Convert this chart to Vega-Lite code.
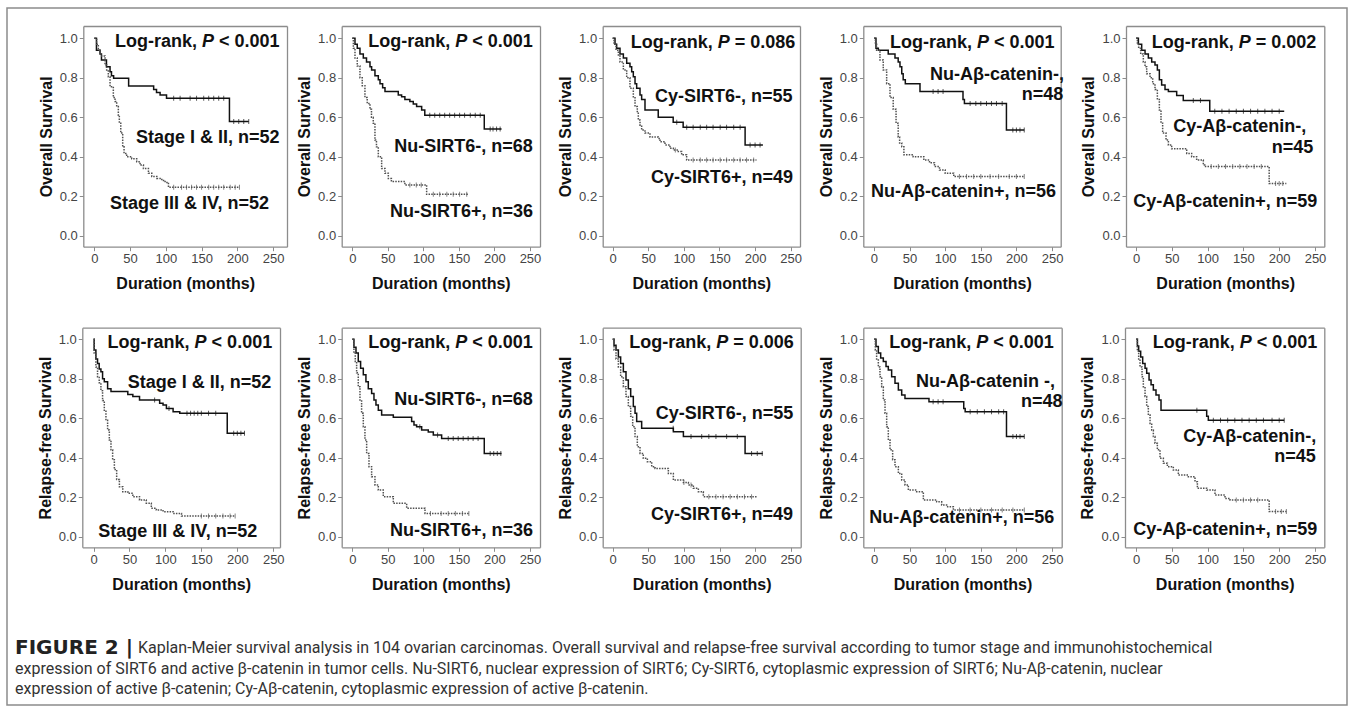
{
"$schema":"https://vega.github.io/schema/vega-lite/v6.json",
"width":1340,"height":697,"autosize":"none",
"padding":{"left":7,"top":8,"right":8,"bottom":7},
"background":"white",
"datasets":{
"km":[
{"p":"a1","g":"s","t":0,"v":1},{"p":"a1","g":"s","t":3,"v":0.94},{"p":"a1","g":"s","t":8,"v":0.92},{"p":"a1","g":"s","t":10,"v":0.89},{"p":"a1","g":"s","t":17,"v":0.856},{"p":"a1","g":"s","t":22,"v":0.83},{"p":"a1","g":"s","t":24,"v":0.81},{"p":"a1","g":"s","t":27,"v":0.797},{"p":"a1","g":"s","t":48,"v":0.758},{"p":"a1","g":"s","t":83,"v":0.74},{"p":"a1","g":"s","t":87,"v":0.725},{"p":"a1","g":"s","t":92,"v":0.713},{"p":"a1","g":"s","t":101,"v":0.696},{"p":"a1","g":"s","t":189,"v":0.578},{"p":"a1","g":"s","t":216,"v":0.578},
{"p":"a1","g":"d","t":0,"v":1},{"p":"a1","g":"d","t":3.3,"v":0.97},{"p":"a1","g":"d","t":5.6,"v":0.94},{"p":"a1","g":"d","t":8,"v":0.92},{"p":"a1","g":"d","t":10.3,"v":0.91},{"p":"a1","g":"d","t":15,"v":0.865},{"p":"a1","g":"d","t":17.3,"v":0.84},{"p":"a1","g":"d","t":19.6,"v":0.805},{"p":"a1","g":"d","t":22,"v":0.755},{"p":"a1","g":"d","t":26.6,"v":0.7},{"p":"a1","g":"d","t":29,"v":0.68},{"p":"a1","g":"d","t":31.3,"v":0.654},{"p":"a1","g":"d","t":33.6,"v":0.61},{"p":"a1","g":"d","t":35,"v":0.57},{"p":"a1","g":"d","t":37,"v":0.52},{"p":"a1","g":"d","t":39.7,"v":0.45},{"p":"a1","g":"d","t":41.6,"v":0.417},{"p":"a1","g":"d","t":45.3,"v":0.4},{"p":"a1","g":"d","t":52.3,"v":0.39},{"p":"a1","g":"d","t":59.3,"v":0.375},{"p":"a1","g":"d","t":64,"v":0.358},{"p":"a1","g":"d","t":68.7,"v":0.34},{"p":"a1","g":"d","t":75.7,"v":0.316},{"p":"a1","g":"d","t":80.4,"v":0.3},{"p":"a1","g":"d","t":87.4,"v":0.29},{"p":"a1","g":"d","t":94.4,"v":0.28},{"p":"a1","g":"d","t":99,"v":0.27},{"p":"a1","g":"d","t":103.7,"v":0.25},{"p":"a1","g":"d","t":106,"v":0.245},{"p":"a1","g":"d","t":203,"v":0.245},
{"p":"a2","g":"s","t":0,"v":1},{"p":"a2","g":"s","t":3.8,"v":0.97},{"p":"a2","g":"s","t":7,"v":0.95},{"p":"a2","g":"s","t":10.8,"v":0.92},{"p":"a2","g":"s","t":15.5,"v":0.9},{"p":"a2","g":"s","t":20,"v":0.88},{"p":"a2","g":"s","t":24.9,"v":0.856},{"p":"a2","g":"s","t":27.2,"v":0.84},{"p":"a2","g":"s","t":31.9,"v":0.81},{"p":"a2","g":"s","t":36.6,"v":0.79},{"p":"a2","g":"s","t":39,"v":0.77},{"p":"a2","g":"s","t":42.7,"v":0.75},{"p":"a2","g":"s","t":46,"v":0.73},{"p":"a2","g":"s","t":64.7,"v":0.713},{"p":"a2","g":"s","t":69.4,"v":0.704},{"p":"a2","g":"s","t":74,"v":0.69},{"p":"a2","g":"s","t":81,"v":0.68},{"p":"a2","g":"s","t":85.8,"v":0.667},{"p":"a2","g":"s","t":90.5,"v":0.655},{"p":"a2","g":"s","t":97.6,"v":0.637},{"p":"a2","g":"s","t":102,"v":0.61},{"p":"a2","g":"s","t":185.7,"v":0.54},{"p":"a2","g":"s","t":210,"v":0.54},
{"p":"a2","g":"d","t":0,"v":1},{"p":"a2","g":"d","t":1.5,"v":0.95},{"p":"a2","g":"d","t":3.8,"v":0.9},{"p":"a2","g":"d","t":7,"v":0.86},{"p":"a2","g":"d","t":10.8,"v":0.8},{"p":"a2","g":"d","t":14,"v":0.76},{"p":"a2","g":"d","t":17.8,"v":0.7},{"p":"a2","g":"d","t":21,"v":0.67},{"p":"a2","g":"d","t":24.9,"v":0.64},{"p":"a2","g":"d","t":27,"v":0.6},{"p":"a2","g":"d","t":29.5,"v":0.57},{"p":"a2","g":"d","t":31.9,"v":0.485},{"p":"a2","g":"d","t":34,"v":0.45},{"p":"a2","g":"d","t":36.6,"v":0.4},{"p":"a2","g":"d","t":41.3,"v":0.34},{"p":"a2","g":"d","t":46,"v":0.316},{"p":"a2","g":"d","t":50.7,"v":0.29},{"p":"a2","g":"d","t":55,"v":0.274},{"p":"a2","g":"d","t":74,"v":0.257},{"p":"a2","g":"d","t":104.6,"v":0.21},{"p":"a2","g":"d","t":164,"v":0.21},
{"p":"a3","g":"s","t":0,"v":1},{"p":"a3","g":"s","t":3.3,"v":0.97},{"p":"a3","g":"s","t":5.6,"v":0.95},{"p":"a3","g":"s","t":10.3,"v":0.92},{"p":"a3","g":"s","t":15,"v":0.9},{"p":"a3","g":"s","t":19.7,"v":0.873},{"p":"a3","g":"s","t":24.3,"v":0.856},{"p":"a3","g":"s","t":26.7,"v":0.83},{"p":"a3","g":"s","t":29,"v":0.805},{"p":"a3","g":"s","t":31.4,"v":0.77},{"p":"a3","g":"s","t":33.7,"v":0.747},{"p":"a3","g":"s","t":38.4,"v":0.713},{"p":"a3","g":"s","t":40.7,"v":0.69},{"p":"a3","g":"s","t":45.4,"v":0.637},{"p":"a3","g":"s","t":64,"v":0.6},{"p":"a3","g":"s","t":85,"v":0.575},{"p":"a3","g":"s","t":99,"v":0.55},{"p":"a3","g":"s","t":186,"v":0.46},{"p":"a3","g":"s","t":211,"v":0.46},
{"p":"a3","g":"d","t":0,"v":1},{"p":"a3","g":"d","t":1.9,"v":0.97},{"p":"a3","g":"d","t":4.7,"v":0.94},{"p":"a3","g":"d","t":8,"v":0.91},{"p":"a3","g":"d","t":10.3,"v":0.88},{"p":"a3","g":"d","t":15,"v":0.84},{"p":"a3","g":"d","t":19.7,"v":0.8},{"p":"a3","g":"d","t":24.3,"v":0.747},{"p":"a3","g":"d","t":29,"v":0.704},{"p":"a3","g":"d","t":31.4,"v":0.654},{"p":"a3","g":"d","t":34.6,"v":0.62},{"p":"a3","g":"d","t":36,"v":0.586},{"p":"a3","g":"d","t":38.4,"v":0.56},{"p":"a3","g":"d","t":40.7,"v":0.535},{"p":"a3","g":"d","t":45.4,"v":0.52},{"p":"a3","g":"d","t":52.4,"v":0.5},{"p":"a3","g":"d","t":64,"v":0.493},{"p":"a3","g":"d","t":66.5,"v":0.476},{"p":"a3","g":"d","t":73.5,"v":0.46},{"p":"a3","g":"d","t":80.5,"v":0.443},{"p":"a3","g":"d","t":85.2,"v":0.434},{"p":"a3","g":"d","t":92.2,"v":0.426},{"p":"a3","g":"d","t":96.9,"v":0.41},{"p":"a3","g":"d","t":103.9,"v":0.383},{"p":"a3","g":"d","t":202,"v":0.383},
{"p":"a4","g":"s","t":0,"v":1},{"p":"a4","g":"s","t":2.8,"v":0.95},{"p":"a4","g":"s","t":6.1,"v":0.94},{"p":"a4","g":"s","t":20,"v":0.92},{"p":"a4","g":"s","t":29.5,"v":0.9},{"p":"a4","g":"s","t":34,"v":0.88},{"p":"a4","g":"s","t":36.5,"v":0.856},{"p":"a4","g":"s","t":39,"v":0.82},{"p":"a4","g":"s","t":41,"v":0.79},{"p":"a4","g":"s","t":44,"v":0.77},{"p":"a4","g":"s","t":64.6,"v":0.73},{"p":"a4","g":"s","t":125,"v":0.69},{"p":"a4","g":"s","t":127,"v":0.67},{"p":"a4","g":"s","t":186,"v":0.535},{"p":"a4","g":"s","t":211,"v":0.535},
{"p":"a4","g":"d","t":0,"v":1},{"p":"a4","g":"d","t":2,"v":0.97},{"p":"a4","g":"d","t":3.7,"v":0.94},{"p":"a4","g":"d","t":8.4,"v":0.89},{"p":"a4","g":"d","t":13,"v":0.84},{"p":"a4","g":"d","t":17.8,"v":0.77},{"p":"a4","g":"d","t":22.5,"v":0.7},{"p":"a4","g":"d","t":27,"v":0.64},{"p":"a4","g":"d","t":31,"v":0.57},{"p":"a4","g":"d","t":34,"v":0.5},{"p":"a4","g":"d","t":36,"v":0.47},{"p":"a4","g":"d","t":39,"v":0.45},{"p":"a4","g":"d","t":42,"v":0.41},{"p":"a4","g":"d","t":55,"v":0.4},{"p":"a4","g":"d","t":70,"v":0.383},{"p":"a4","g":"d","t":78,"v":0.37},{"p":"a4","g":"d","t":85,"v":0.35},{"p":"a4","g":"d","t":92,"v":0.333},{"p":"a4","g":"d","t":100,"v":0.316},{"p":"a4","g":"d","t":112,"v":0.3},{"p":"a4","g":"d","t":211,"v":0.3},
{"p":"a5","g":"s","t":0,"v":1},{"p":"a5","g":"s","t":3.3,"v":0.97},{"p":"a5","g":"s","t":7.9,"v":0.94},{"p":"a5","g":"s","t":12.6,"v":0.92},{"p":"a5","g":"s","t":17.2,"v":0.9},{"p":"a5","g":"s","t":21.9,"v":0.88},{"p":"a5","g":"s","t":26.5,"v":0.865},{"p":"a5","g":"s","t":29.8,"v":0.84},{"p":"a5","g":"s","t":32.6,"v":0.79},{"p":"a5","g":"s","t":35.8,"v":0.763},{"p":"a5","g":"s","t":40.5,"v":0.74},{"p":"a5","g":"s","t":45.2,"v":0.73},{"p":"a5","g":"s","t":56.8,"v":0.71},{"p":"a5","g":"s","t":66,"v":0.685},{"p":"a5","g":"s","t":103,"v":0.63},{"p":"a5","g":"s","t":207,"v":0.63},
{"p":"a5","g":"d","t":0,"v":1},{"p":"a5","g":"d","t":1.9,"v":0.97},{"p":"a5","g":"d","t":3.7,"v":0.95},{"p":"a5","g":"d","t":6.5,"v":0.92},{"p":"a5","g":"d","t":10.2,"v":0.88},{"p":"a5","g":"d","t":12.6,"v":0.856},{"p":"a5","g":"d","t":14.9,"v":0.82},{"p":"a5","g":"d","t":19.6,"v":0.8},{"p":"a5","g":"d","t":23.3,"v":0.77},{"p":"a5","g":"d","t":26.5,"v":0.74},{"p":"a5","g":"d","t":29.8,"v":0.69},{"p":"a5","g":"d","t":32.6,"v":0.637},{"p":"a5","g":"d","t":34.9,"v":0.57},{"p":"a5","g":"d","t":37.2,"v":0.52},{"p":"a5","g":"d","t":41.9,"v":0.485},{"p":"a5","g":"d","t":45.2,"v":0.46},{"p":"a5","g":"d","t":49.8,"v":0.44},{"p":"a5","g":"d","t":70.8,"v":0.417},{"p":"a5","g":"d","t":77.7,"v":0.4},{"p":"a5","g":"d","t":84.7,"v":0.383},{"p":"a5","g":"d","t":94,"v":0.358},{"p":"a5","g":"d","t":96,"v":0.35},{"p":"a5","g":"d","t":186,"v":0.265},{"p":"a5","g":"d","t":210,"v":0.265},
{"p":"b1","g":"s","t":0,"v":1},{"p":"b1","g":"s","t":0.9,"v":0.946},{"p":"b1","g":"s","t":3.3,"v":0.9},{"p":"b1","g":"s","t":5.6,"v":0.878},{"p":"b1","g":"s","t":7.9,"v":0.85},{"p":"b1","g":"s","t":10.3,"v":0.836},{"p":"b1","g":"s","t":12.6,"v":0.8},{"p":"b1","g":"s","t":15,"v":0.785},{"p":"b1","g":"s","t":19.6,"v":0.75},{"p":"b1","g":"s","t":24.3,"v":0.735},{"p":"b1","g":"s","t":47.7,"v":0.72},{"p":"b1","g":"s","t":54.7,"v":0.71},{"p":"b1","g":"s","t":64,"v":0.693},{"p":"b1","g":"s","t":92,"v":0.676},{"p":"b1","g":"s","t":96.7,"v":0.667},{"p":"b1","g":"s","t":101.4,"v":0.65},{"p":"b1","g":"s","t":110.7,"v":0.633},{"p":"b1","g":"s","t":120,"v":0.625},{"p":"b1","g":"s","t":186,"v":0.524},{"p":"b1","g":"s","t":210,"v":0.524},
{"p":"b1","g":"d","t":0,"v":1},{"p":"b1","g":"d","t":0.9,"v":0.93},{"p":"b1","g":"d","t":3.3,"v":0.86},{"p":"b1","g":"d","t":5.6,"v":0.81},{"p":"b1","g":"d","t":7.9,"v":0.78},{"p":"b1","g":"d","t":10.3,"v":0.74},{"p":"b1","g":"d","t":12.6,"v":0.69},{"p":"b1","g":"d","t":15,"v":0.64},{"p":"b1","g":"d","t":17.3,"v":0.59},{"p":"b1","g":"d","t":19.6,"v":0.54},{"p":"b1","g":"d","t":22,"v":0.49},{"p":"b1","g":"d","t":24.3,"v":0.44},{"p":"b1","g":"d","t":26.6,"v":0.39},{"p":"b1","g":"d","t":29,"v":0.34},{"p":"b1","g":"d","t":32.2,"v":0.29},{"p":"b1","g":"d","t":36,"v":0.253},{"p":"b1","g":"d","t":40.7,"v":0.228},{"p":"b1","g":"d","t":47.7,"v":0.22},{"p":"b1","g":"d","t":54.7,"v":0.203},{"p":"b1","g":"d","t":64,"v":0.186},{"p":"b1","g":"d","t":73.4,"v":0.17},{"p":"b1","g":"d","t":80.4,"v":0.144},{"p":"b1","g":"d","t":87.4,"v":0.135},{"p":"b1","g":"d","t":96.7,"v":0.127},{"p":"b1","g":"d","t":110.7,"v":0.118},{"p":"b1","g":"d","t":122.4,"v":0.105},{"p":"b1","g":"d","t":197,"v":0.105},
{"p":"b2","g":"s","t":0,"v":1},{"p":"b2","g":"s","t":2.3,"v":0.96},{"p":"b2","g":"s","t":5.2,"v":0.93},{"p":"b2","g":"s","t":8.4,"v":0.887},{"p":"b2","g":"s","t":11.7,"v":0.853},{"p":"b2","g":"s","t":15.5,"v":0.82},{"p":"b2","g":"s","t":19.2,"v":0.785},{"p":"b2","g":"s","t":22.5,"v":0.75},{"p":"b2","g":"s","t":27.2,"v":0.726},{"p":"b2","g":"s","t":30.5,"v":0.693},{"p":"b2","g":"s","t":33.3,"v":0.667},{"p":"b2","g":"s","t":36.6,"v":0.64},{"p":"b2","g":"s","t":41.3,"v":0.617},{"p":"b2","g":"s","t":57.7,"v":0.605},{"p":"b2","g":"s","t":83.5,"v":0.583},{"p":"b2","g":"s","t":86.8,"v":0.566},{"p":"b2","g":"s","t":90.5,"v":0.557},{"p":"b2","g":"s","t":97.6,"v":0.54},{"p":"b2","g":"s","t":106.9,"v":0.53},{"p":"b2","g":"s","t":114,"v":0.515},{"p":"b2","g":"s","t":125.7,"v":0.498},{"p":"b2","g":"s","t":185.7,"v":0.422},{"p":"b2","g":"s","t":210,"v":0.422},
{"p":"b2","g":"d","t":0,"v":1},{"p":"b2","g":"d","t":2.3,"v":0.93},{"p":"b2","g":"d","t":4.2,"v":0.887},{"p":"b2","g":"d","t":6.1,"v":0.83},{"p":"b2","g":"d","t":8.4,"v":0.76},{"p":"b2","g":"d","t":10.8,"v":0.693},{"p":"b2","g":"d","t":13.1,"v":0.625},{"p":"b2","g":"d","t":15.5,"v":0.557},{"p":"b2","g":"d","t":17.8,"v":0.49},{"p":"b2","g":"d","t":20.2,"v":0.422},{"p":"b2","g":"d","t":23.5,"v":0.355},{"p":"b2","g":"d","t":27.2,"v":0.304},{"p":"b2","g":"d","t":31.9,"v":0.262},{"p":"b2","g":"d","t":36.6,"v":0.236},{"p":"b2","g":"d","t":43.6,"v":0.203},{"p":"b2","g":"d","t":57.7,"v":0.169},{"p":"b2","g":"d","t":76.5,"v":0.144},{"p":"b2","g":"d","t":102.3,"v":0.118},{"p":"b2","g":"d","t":164.6,"v":0.118},
{"p":"b3","g":"s","t":0,"v":1},{"p":"b3","g":"s","t":1.9,"v":0.97},{"p":"b3","g":"s","t":4.7,"v":0.946},{"p":"b3","g":"s","t":8,"v":0.91},{"p":"b3","g":"s","t":11.2,"v":0.878},{"p":"b3","g":"s","t":15,"v":0.836},{"p":"b3","g":"s","t":18.7,"v":0.794},{"p":"b3","g":"s","t":22,"v":0.75},{"p":"b3","g":"s","t":25.3,"v":0.71},{"p":"b3","g":"s","t":29,"v":0.66},{"p":"b3","g":"s","t":31.4,"v":0.625},{"p":"b3","g":"s","t":33.7,"v":0.583},{"p":"b3","g":"s","t":40.7,"v":0.549},{"p":"b3","g":"s","t":85.2,"v":0.532},{"p":"b3","g":"s","t":99.3,"v":0.507},{"p":"b3","g":"s","t":185.9,"v":0.422},{"p":"b3","g":"s","t":210.7,"v":0.422},
{"p":"b3","g":"d","t":0,"v":1},{"p":"b3","g":"d","t":1.9,"v":0.946},{"p":"b3","g":"d","t":4.7,"v":0.9},{"p":"b3","g":"d","t":8,"v":0.86},{"p":"b3","g":"d","t":11.2,"v":0.81},{"p":"b3","g":"d","t":15,"v":0.76},{"p":"b3","g":"d","t":18.7,"v":0.71},{"p":"b3","g":"d","t":22,"v":0.66},{"p":"b3","g":"d","t":25.3,"v":0.61},{"p":"b3","g":"d","t":28.1,"v":0.557},{"p":"b3","g":"d","t":31.4,"v":0.507},{"p":"b3","g":"d","t":34.6,"v":0.456},{"p":"b3","g":"d","t":38.4,"v":0.422},{"p":"b3","g":"d","t":43,"v":0.397},{"p":"b3","g":"d","t":48.7,"v":0.38},{"p":"b3","g":"d","t":54.8,"v":0.355},{"p":"b3","g":"d","t":59.5,"v":0.346},{"p":"b3","g":"d","t":78.2,"v":0.32},{"p":"b3","g":"d","t":85.2,"v":0.287},{"p":"b3","g":"d","t":99.3,"v":0.274},{"p":"b3","g":"d","t":106.3,"v":0.262},{"p":"b3","g":"d","t":113.3,"v":0.245},{"p":"b3","g":"d","t":120.3,"v":0.228},{"p":"b3","g":"d","t":127.3,"v":0.203},{"p":"b3","g":"d","t":202,"v":0.203},
{"p":"b4","g":"s","t":0,"v":1},{"p":"b4","g":"s","t":2.8,"v":0.963},{"p":"b4","g":"s","t":6.1,"v":0.93},{"p":"b4","g":"s","t":9.4,"v":0.905},{"p":"b4","g":"s","t":13.1,"v":0.887},{"p":"b4","g":"s","t":16.9,"v":0.862},{"p":"b4","g":"s","t":20.1,"v":0.845},{"p":"b4","g":"s","t":24.8,"v":0.81},{"p":"b4","g":"s","t":29.5,"v":0.777},{"p":"b4","g":"s","t":34.2,"v":0.743},{"p":"b4","g":"s","t":38.9,"v":0.718},{"p":"b4","g":"s","t":43.5,"v":0.7},{"p":"b4","g":"s","t":77.2,"v":0.684},{"p":"b4","g":"s","t":126,"v":0.65},{"p":"b4","g":"s","t":128,"v":0.633},{"p":"b4","g":"s","t":186,"v":0.507},{"p":"b4","g":"s","t":211,"v":0.507},
{"p":"b4","g":"d","t":0,"v":1},{"p":"b4","g":"d","t":1.9,"v":0.946},{"p":"b4","g":"d","t":3.7,"v":0.9},{"p":"b4","g":"d","t":6.1,"v":0.86},{"p":"b4","g":"d","t":8.4,"v":0.81},{"p":"b4","g":"d","t":10.8,"v":0.76},{"p":"b4","g":"d","t":13.1,"v":0.693},{"p":"b4","g":"d","t":15.5,"v":0.625},{"p":"b4","g":"d","t":17.8,"v":0.557},{"p":"b4","g":"d","t":20.1,"v":0.49},{"p":"b4","g":"d","t":22.5,"v":0.44},{"p":"b4","g":"d","t":26.2,"v":0.39},{"p":"b4","g":"d","t":29.5,"v":0.355},{"p":"b4","g":"d","t":34.2,"v":0.32},{"p":"b4","g":"d","t":38.9,"v":0.287},{"p":"b4","g":"d","t":43.5,"v":0.262},{"p":"b4","g":"d","t":48.2,"v":0.236},{"p":"b4","g":"d","t":59.9,"v":0.228},{"p":"b4","g":"d","t":69.3,"v":0.186},{"p":"b4","g":"d","t":88,"v":0.177},{"p":"b4","g":"d","t":95,"v":0.16},{"p":"b4","g":"d","t":102,"v":0.152},{"p":"b4","g":"d","t":111.4,"v":0.135},{"p":"b4","g":"d","t":211,"v":0.135},
{"p":"b5","g":"s","t":0,"v":1},{"p":"b5","g":"s","t":1.9,"v":0.966},{"p":"b5","g":"s","t":3.7,"v":0.94},{"p":"b5","g":"s","t":6.5,"v":0.91},{"p":"b5","g":"s","t":9.3,"v":0.878},{"p":"b5","g":"s","t":12.6,"v":0.853},{"p":"b5","g":"s","t":14.9,"v":0.828},{"p":"b5","g":"s","t":18.2,"v":0.794},{"p":"b5","g":"s","t":21,"v":0.77},{"p":"b5","g":"s","t":24.2,"v":0.743},{"p":"b5","g":"s","t":27.9,"v":0.718},{"p":"b5","g":"s","t":32.1,"v":0.693},{"p":"b5","g":"s","t":34.9,"v":0.64},{"p":"b5","g":"s","t":98.7,"v":0.61},{"p":"b5","g":"s","t":101,"v":0.59},{"p":"b5","g":"s","t":207,"v":0.59},
{"p":"b5","g":"d","t":0,"v":1},{"p":"b5","g":"d","t":1.9,"v":0.94},{"p":"b5","g":"d","t":3.7,"v":0.9},{"p":"b5","g":"d","t":5.6,"v":0.86},{"p":"b5","g":"d","t":8.4,"v":0.81},{"p":"b5","g":"d","t":10.2,"v":0.76},{"p":"b5","g":"d","t":12.6,"v":0.71},{"p":"b5","g":"d","t":14.9,"v":0.66},{"p":"b5","g":"d","t":17.2,"v":0.617},{"p":"b5","g":"d","t":19.6,"v":0.574},{"p":"b5","g":"d","t":21.9,"v":0.54},{"p":"b5","g":"d","t":24.2,"v":0.507},{"p":"b5","g":"d","t":26.5,"v":0.473},{"p":"b5","g":"d","t":29.8,"v":0.44},{"p":"b5","g":"d","t":33.5,"v":0.397},{"p":"b5","g":"d","t":38.2,"v":0.372},{"p":"b5","g":"d","t":43.8,"v":0.355},{"p":"b5","g":"d","t":52.1,"v":0.338},{"p":"b5","g":"d","t":59.1,"v":0.312},{"p":"b5","g":"d","t":73.1,"v":0.304},{"p":"b5","g":"d","t":82.4,"v":0.279},{"p":"b5","g":"d","t":85.7,"v":0.245},{"p":"b5","g":"d","t":98.7,"v":0.236},{"p":"b5","g":"d","t":110.3,"v":0.211},{"p":"b5","g":"d","t":124.3,"v":0.194},{"p":"b5","g":"d","t":131.3,"v":0.186},{"p":"b5","g":"d","t":186,"v":0.128},{"p":"b5","g":"d","t":210,"v":0.128}
],
"cens":[
{"p":"a1","g":"s","t":111,"v":0.696},{"p":"a1","g":"s","t":120,"v":0.696},{"p":"a1","g":"s","t":134,"v":0.696},{"p":"a1","g":"s","t":143,"v":0.696},{"p":"a1","g":"s","t":153,"v":0.696},{"p":"a1","g":"s","t":160,"v":0.696},{"p":"a1","g":"s","t":167,"v":0.696},{"p":"a1","g":"s","t":174,"v":0.696},{"p":"a1","g":"s","t":181,"v":0.696},{"p":"a1","g":"s","t":195,"v":0.578},{"p":"a1","g":"s","t":202,"v":0.578},{"p":"a1","g":"s","t":209,"v":0.578},{"p":"a1","g":"s","t":216,"v":0.578},
{"p":"a1","g":"d","t":111,"v":0.245},{"p":"a1","g":"d","t":122,"v":0.245},{"p":"a1","g":"d","t":129,"v":0.245},{"p":"a1","g":"d","t":136,"v":0.245},{"p":"a1","g":"d","t":143,"v":0.245},{"p":"a1","g":"d","t":150,"v":0.245},{"p":"a1","g":"d","t":160,"v":0.245},{"p":"a1","g":"d","t":167,"v":0.245},{"p":"a1","g":"d","t":174,"v":0.245},{"p":"a1","g":"d","t":181,"v":0.245},{"p":"a1","g":"d","t":190,"v":0.245},{"p":"a1","g":"d","t":197,"v":0.245},{"p":"a1","g":"d","t":203,"v":0.245},
{"p":"a2","g":"s","t":109,"v":0.61},{"p":"a2","g":"s","t":116,"v":0.61},{"p":"a2","g":"s","t":123,"v":0.61},{"p":"a2","g":"s","t":130,"v":0.61},{"p":"a2","g":"s","t":137,"v":0.61},{"p":"a2","g":"s","t":144,"v":0.61},{"p":"a2","g":"s","t":151,"v":0.61},{"p":"a2","g":"s","t":158,"v":0.61},{"p":"a2","g":"s","t":166,"v":0.61},{"p":"a2","g":"s","t":173,"v":0.61},{"p":"a2","g":"s","t":180,"v":0.61},{"p":"a2","g":"s","t":194,"v":0.54},{"p":"a2","g":"s","t":198,"v":0.54},{"p":"a2","g":"s","t":203,"v":0.54},{"p":"a2","g":"s","t":208,"v":0.54},
{"p":"a2","g":"d","t":81,"v":0.257},{"p":"a2","g":"d","t":90,"v":0.257},{"p":"a2","g":"d","t":97,"v":0.257},{"p":"a2","g":"d","t":114,"v":0.21},{"p":"a2","g":"d","t":123,"v":0.21},{"p":"a2","g":"d","t":133,"v":0.21},{"p":"a2","g":"d","t":142,"v":0.21},{"p":"a2","g":"d","t":151,"v":0.21},{"p":"a2","g":"d","t":161,"v":0.21},
{"p":"a3","g":"s","t":90,"v":0.575},{"p":"a3","g":"s","t":104,"v":0.55},{"p":"a3","g":"s","t":113,"v":0.55},{"p":"a3","g":"s","t":123,"v":0.55},{"p":"a3","g":"s","t":132,"v":0.55},{"p":"a3","g":"s","t":141,"v":0.55},{"p":"a3","g":"s","t":151,"v":0.55},{"p":"a3","g":"s","t":160,"v":0.55},{"p":"a3","g":"s","t":170,"v":0.55},{"p":"a3","g":"s","t":179,"v":0.55},{"p":"a3","g":"s","t":193,"v":0.46},{"p":"a3","g":"s","t":200,"v":0.46},{"p":"a3","g":"s","t":207,"v":0.46},
{"p":"a3","g":"d","t":88,"v":0.434},{"p":"a3","g":"d","t":113,"v":0.383},{"p":"a3","g":"d","t":123,"v":0.383},{"p":"a3","g":"d","t":132,"v":0.383},{"p":"a3","g":"d","t":141,"v":0.383},{"p":"a3","g":"d","t":151,"v":0.383},{"p":"a3","g":"d","t":160,"v":0.383},{"p":"a3","g":"d","t":170,"v":0.383},{"p":"a3","g":"d","t":179,"v":0.383},{"p":"a3","g":"d","t":188,"v":0.383},{"p":"a3","g":"d","t":198,"v":0.383},
{"p":"a4","g":"s","t":83,"v":0.73},{"p":"a4","g":"s","t":90,"v":0.73},{"p":"a4","g":"s","t":97,"v":0.73},{"p":"a4","g":"s","t":135,"v":0.67},{"p":"a4","g":"s","t":143,"v":0.67},{"p":"a4","g":"s","t":150,"v":0.67},{"p":"a4","g":"s","t":158,"v":0.67},{"p":"a4","g":"s","t":165,"v":0.67},{"p":"a4","g":"s","t":172,"v":0.67},{"p":"a4","g":"s","t":180,"v":0.67},{"p":"a4","g":"s","t":195,"v":0.535},{"p":"a4","g":"s","t":200,"v":0.535},{"p":"a4","g":"s","t":205,"v":0.535},{"p":"a4","g":"s","t":211,"v":0.535},
{"p":"a4","g":"d","t":120,"v":0.3},{"p":"a4","g":"d","t":130,"v":0.3},{"p":"a4","g":"d","t":140,"v":0.3},{"p":"a4","g":"d","t":150,"v":0.3},{"p":"a4","g":"d","t":163,"v":0.3},{"p":"a4","g":"d","t":175,"v":0.3},{"p":"a4","g":"d","t":190,"v":0.3},{"p":"a4","g":"d","t":200,"v":0.3},{"p":"a4","g":"d","t":211,"v":0.3},
{"p":"a5","g":"s","t":80,"v":0.685},{"p":"a5","g":"s","t":90,"v":0.685},{"p":"a5","g":"s","t":110,"v":0.63},{"p":"a5","g":"s","t":120,"v":0.63},{"p":"a5","g":"s","t":130,"v":0.63},{"p":"a5","g":"s","t":140,"v":0.63},{"p":"a5","g":"s","t":150,"v":0.63},{"p":"a5","g":"s","t":160,"v":0.63},{"p":"a5","g":"s","t":170,"v":0.63},{"p":"a5","g":"s","t":180,"v":0.63},{"p":"a5","g":"s","t":190,"v":0.63},{"p":"a5","g":"s","t":200,"v":0.63},
{"p":"a5","g":"d","t":105,"v":0.35},{"p":"a5","g":"d","t":115,"v":0.35},{"p":"a5","g":"d","t":125,"v":0.35},{"p":"a5","g":"d","t":135,"v":0.35},{"p":"a5","g":"d","t":145,"v":0.35},{"p":"a5","g":"d","t":155,"v":0.35},{"p":"a5","g":"d","t":165,"v":0.35},{"p":"a5","g":"d","t":175,"v":0.35},{"p":"a5","g":"d","t":195,"v":0.265},{"p":"a5","g":"d","t":200,"v":0.265},{"p":"a5","g":"d","t":205,"v":0.265},
{"p":"b1","g":"s","t":85,"v":0.693},{"p":"b1","g":"s","t":105,"v":0.65},{"p":"b1","g":"s","t":130,"v":0.625},{"p":"b1","g":"s","t":135,"v":0.625},{"p":"b1","g":"s","t":140,"v":0.625},{"p":"b1","g":"s","t":145,"v":0.625},{"p":"b1","g":"s","t":150,"v":0.625},{"p":"b1","g":"s","t":160,"v":0.625},{"p":"b1","g":"s","t":170,"v":0.625},{"p":"b1","g":"s","t":195,"v":0.524},{"p":"b1","g":"s","t":200,"v":0.524},{"p":"b1","g":"s","t":205,"v":0.524},{"p":"b1","g":"s","t":210,"v":0.524},
{"p":"b1","g":"d","t":150,"v":0.105},{"p":"b1","g":"d","t":160,"v":0.105},{"p":"b1","g":"d","t":170,"v":0.105},{"p":"b1","g":"d","t":180,"v":0.105},{"p":"b1","g":"d","t":190,"v":0.105},{"p":"b1","g":"d","t":197,"v":0.105},
{"p":"b2","g":"s","t":95,"v":0.557},{"p":"b2","g":"s","t":120,"v":0.515},{"p":"b2","g":"s","t":135,"v":0.498},{"p":"b2","g":"s","t":142,"v":0.498},{"p":"b2","g":"s","t":149,"v":0.498},{"p":"b2","g":"s","t":156,"v":0.498},{"p":"b2","g":"s","t":163,"v":0.498},{"p":"b2","g":"s","t":170,"v":0.498},{"p":"b2","g":"s","t":177,"v":0.498},{"p":"b2","g":"s","t":194,"v":0.422},{"p":"b2","g":"s","t":199,"v":0.422},{"p":"b2","g":"s","t":204,"v":0.422},{"p":"b2","g":"s","t":209,"v":0.422},
{"p":"b2","g":"d","t":110,"v":0.118},{"p":"b2","g":"d","t":125,"v":0.118},{"p":"b2","g":"d","t":135,"v":0.118},{"p":"b2","g":"d","t":145,"v":0.118},{"p":"b2","g":"d","t":155,"v":0.118},{"p":"b2","g":"d","t":164,"v":0.118},
{"p":"b3","g":"s","t":85,"v":0.549},{"p":"b3","g":"s","t":110,"v":0.507},{"p":"b3","g":"s","t":125,"v":0.507},{"p":"b3","g":"s","t":135,"v":0.507},{"p":"b3","g":"s","t":145,"v":0.507},{"p":"b3","g":"s","t":160,"v":0.507},{"p":"b3","g":"s","t":175,"v":0.507},{"p":"b3","g":"s","t":195,"v":0.422},{"p":"b3","g":"s","t":203,"v":0.422},{"p":"b3","g":"s","t":210,"v":0.422},
{"p":"b3","g":"d","t":100,"v":0.274},{"p":"b3","g":"d","t":110,"v":0.262},{"p":"b3","g":"d","t":135,"v":0.203},{"p":"b3","g":"d","t":145,"v":0.203},{"p":"b3","g":"d","t":155,"v":0.203},{"p":"b3","g":"d","t":165,"v":0.203},{"p":"b3","g":"d","t":175,"v":0.203},{"p":"b3","g":"d","t":185,"v":0.203},{"p":"b3","g":"d","t":195,"v":0.203},
{"p":"b4","g":"s","t":83,"v":0.684},{"p":"b4","g":"s","t":90,"v":0.684},{"p":"b4","g":"s","t":97,"v":0.684},{"p":"b4","g":"s","t":135,"v":0.633},{"p":"b4","g":"s","t":145,"v":0.633},{"p":"b4","g":"s","t":155,"v":0.633},{"p":"b4","g":"s","t":165,"v":0.633},{"p":"b4","g":"s","t":175,"v":0.633},{"p":"b4","g":"s","t":182,"v":0.633},{"p":"b4","g":"s","t":195,"v":0.507},{"p":"b4","g":"s","t":200,"v":0.507},{"p":"b4","g":"s","t":205,"v":0.507},{"p":"b4","g":"s","t":211,"v":0.507},
{"p":"b4","g":"d","t":120,"v":0.135},{"p":"b4","g":"d","t":135,"v":0.135},{"p":"b4","g":"d","t":150,"v":0.135},{"p":"b4","g":"d","t":165,"v":0.135},{"p":"b4","g":"d","t":180,"v":0.135},{"p":"b4","g":"d","t":195,"v":0.135},{"p":"b4","g":"d","t":211,"v":0.135},
{"p":"b5","g":"s","t":85,"v":0.64},{"p":"b5","g":"s","t":108,"v":0.59},{"p":"b5","g":"s","t":118,"v":0.59},{"p":"b5","g":"s","t":128,"v":0.59},{"p":"b5","g":"s","t":138,"v":0.59},{"p":"b5","g":"s","t":148,"v":0.59},{"p":"b5","g":"s","t":158,"v":0.59},{"p":"b5","g":"s","t":168,"v":0.59},{"p":"b5","g":"s","t":178,"v":0.59},{"p":"b5","g":"s","t":190,"v":0.59},{"p":"b5","g":"s","t":200,"v":0.59},{"p":"b5","g":"s","t":207,"v":0.59},
{"p":"b5","g":"d","t":140,"v":0.186},{"p":"b5","g":"d","t":150,"v":0.186},{"p":"b5","g":"d","t":160,"v":0.186},{"p":"b5","g":"d","t":170,"v":0.186},{"p":"b5","g":"d","t":195,"v":0.128},{"p":"b5","g":"d","t":203,"v":0.128},{"p":"b5","g":"d","t":210,"v":0.128}
],
"txt":[
{"p":"a1","k":"lr","t":28.95,"v":0.98,"lab":"Log-rank,","pv":"< 0.001"},{"p":"a1","k":"g","t":58.3,"v":0.493,"lab":"Stage I & II, n=52"},{"p":"a1","k":"g","t":22,"v":0.161,"lab":"Stage III & IV, n=52"},
{"p":"a2","k":"lr","t":22.5,"v":0.98,"lab":"Log-rank,","pv":"< 0.001"},{"p":"a2","k":"g","t":59.1,"v":0.451,"lab":"Nu-SIRT6-, n=68"},{"p":"a2","k":"g","t":53,"v":0.119,"lab":"Nu-SIRT6+, n=36"},
{"p":"a3","k":"lr","t":25.3,"v":0.975,"lab":"Log-rank,","pv":"= 0.086"},{"p":"a3","k":"g","t":59.4,"v":0.704,"lab":"Cy-SIRT6-, n=55"},{"p":"a3","k":"g","t":53.8,"v":0.291,"lab":"Cy-SIRT6+, n=49"},
{"p":"a4","k":"lr","t":22.5,"v":0.975,"lab":"Log-rank,","pv":"< 0.001"},{"p":"a4","k":"g","t":78.7,"v":0.814,"lab":"Nu-Aβ-catenin-,"},{"p":"a4","k":"g","t":207.4,"v":0.713,"lab":"n=48"},{"p":"a4","k":"g","t":-4.2,"v":0.22,"lab":"Nu-Aβ-catenin+, n=56"},
{"p":"a5","k":"lr","t":21.9,"v":0.975,"lab":"Log-rank,","pv":"= 0.002"},{"p":"a5","k":"g","t":52.1,"v":0.552,"lab":"Cy-Aβ-catenin-,"},{"p":"a5","k":"g","t":189.5,"v":0.443,"lab":"n=45"},{"p":"a5","k":"g","t":-3.8,"v":0.172,"lab":"Cy-Aβ-catenin+, n=59"},
{"p":"b1","k":"lr","t":19.6,"v":0.98,"lab":"Log-rank,","pv":"< 0.001"},{"p":"b1","k":"g","t":47.6,"v":0.777,"lab":"Stage I & II, n=52"},{"p":"b1","k":"g","t":6.6,"v":0.022,"lab":"Stage III & IV, n=52"},
{"p":"b2","k":"lr","t":22.5,"v":0.98,"lab":"Log-rank,","pv":"< 0.001"},{"p":"b2","k":"g","t":59.1,"v":0.6925,"lab":"Nu-SIRT6-, n=68"},{"p":"b2","k":"g","t":53,"v":0.03,"lab":"Nu-SIRT6+, n=36"},
{"p":"b3","k":"lr","t":23.3,"v":0.98,"lab":"Log-rank,","pv":"= 0.006"},{"p":"b3","k":"g","t":60.4,"v":0.622,"lab":"Cy-SIRT6-, n=55"},{"p":"b3","k":"g","t":53.8,"v":0.11,"lab":"Cy-SIRT6+, n=49"},
{"p":"b4","k":"lr","t":21.5,"v":0.98,"lab":"Log-rank,","pv":"< 0.001"},{"p":"b4","k":"g","t":59,"v":0.785,"lab":"Nu-Aβ-catenin -,"},{"p":"b4","k":"g","t":206.5,"v":0.684,"lab":"n=48"},{"p":"b4","k":"g","t":-6.6,"v":0.093,"lab":"Nu-Aβ-catenin+, n=56"},
{"p":"b5","k":"lr","t":23.3,"v":0.98,"lab":"Log-rank,","pv":"< 0.001"},{"p":"b5","k":"g","t":66.1,"v":0.507,"lab":"Cy-Aβ-catenin-,"},{"p":"b5","k":"g","t":193.2,"v":0.405,"lab":"n=45"},{"p":"b5","k":"g","t":-3.8,"v":0.034,"lab":"Cy-Aβ-catenin+, n=59"}
],
"cap":[
{"k":"b","line":1,"text":"FIGURE 2 |"},
{"k":"n1","line":1,"text":"Kaplan-Meier survival analysis in 104 ovarian carcinomas. Overall survival and relapse-free survival according to tumor stage and immunohistochemical"},
{"k":"n","line":2,"text":"expression of SIRT6 and active β-catenin in tumor cells. Nu-SIRT6, nuclear expression of SIRT6; Cy-SIRT6, cytoplasmic expression of SIRT6; Nu-Aβ-catenin, nuclear"},
{"k":"n","line":3,"text":"expression of active β-catenin; Cy-Aβ-catenin, cytoplasmic expression of active β-catenin."}
]
},
"layer":[
{"layer":[
{"data":{"name":"km"},"transform":[{"filter":"datum.p=='a1'"}],"mark":{"type":"line","interpolate":"step-after","strokeWidth":1.5},
"encoding":{"x":{"field":"t","type":"quantitative","scale":{"domain":[-15.4,269.5],"range":[76.3,280],"nice":false,"zero":false},"axis":{"orient":"bottom","offset":-458.3,"values":[0,50,100,150,200,250],"title":"Duration (months)"}},
"y":{"field":"v","type":"quantitative","scale":{"domain":[-0.0557,1.0623],"range":[238.7,18],"nice":false,"zero":false},"axis":{"orient":"left","offset":-76.3,"values":[0,0.2,0.4,0.6,0.8,1],"format":".1f","title":"Overall Survival"}},
"color":{"field":"g","type":"nominal","scale":{"domain":["s","d"],"range":["#111111","#505050"]},"legend":null},
"strokeDash":{"field":"g","type":"nominal","scale":{"domain":["s","d"],"range":[[1,0],[1.5,1.2]]},"legend":null}}},
{"data":{"name":"cens"},"transform":[{"filter":"datum.p=='a1'"}],"mark":{"type":"tick","orient":"vertical","size":5,"thickness":1},
"encoding":{"x":{"field":"t","type":"quantitative","scale":{"domain":[-15.4,269.5],"range":[76.3,280],"nice":false,"zero":false},"axis":{"orient":"top","offset":-18,"ticks":false,"labels":false,"title":null}},
"y":{"field":"v","type":"quantitative","scale":{"domain":[-0.0557,1.0623],"range":[238.7,18],"nice":false,"zero":false},"axis":{"orient":"right","offset":-1060,"ticks":false,"labels":false,"title":null}},
"color":{"field":"g","type":"nominal","legend":null}}},
{"data":{"name":"txt"},"transform":[{"filter":"datum.p=='a1'"}],"mark":{"type":"text","align":"left","baseline":"middle","font":"Liberation Sans","fontWeight":"bold","fontSize":18,"color":"#111"},
"encoding":{"x":{"field":"t","type":"quantitative","scale":{"domain":[-15.4,269.5],"range":[76.3,280],"nice":false,"zero":false},"axis":null},"y":{"field":"v","type":"quantitative","scale":{"domain":[-0.0557,1.0623],"range":[238.7,18],"nice":false,"zero":false},"axis":null},"text":{"field":"lab"}}},
{"data":{"name":"txt"},"transform":[{"filter":"datum.p=='a1' && datum.k=='lr'"}],"mark":{"type":"text","align":"left","baseline":"middle","font":"Liberation Sans","fontWeight":"bold","fontStyle":"italic","fontSize":18,"color":"#111","dx":87,"text":"P"},
"encoding":{"x":{"field":"t","type":"quantitative","scale":{"domain":[-15.4,269.5],"range":[76.3,280],"nice":false,"zero":false},"axis":null},"y":{"field":"v","type":"quantitative","scale":{"domain":[-0.0557,1.0623],"range":[238.7,18],"nice":false,"zero":false},"axis":null}}},
{"data":{"name":"txt"},"transform":[{"filter":"datum.p=='a1' && datum.k=='lr'"}],"mark":{"type":"text","align":"left","baseline":"middle","font":"Liberation Sans","fontWeight":"bold","fontSize":18,"color":"#111","dx":104},
"encoding":{"x":{"field":"t","type":"quantitative","scale":{"domain":[-15.4,269.5],"range":[76.3,280],"nice":false,"zero":false},"axis":null},"y":{"field":"v","type":"quantitative","scale":{"domain":[-0.0557,1.0623],"range":[238.7,18],"nice":false,"zero":false},"axis":null},"text":{"field":"pv"}}}
],"resolve":{"axis":{"x":"independent","y":"independent"}}},

{"layer":[
{"data":{"name":"km"},"transform":[{"filter":"datum.p=='a2'"}],"mark":{"type":"line","interpolate":"step-after","strokeWidth":1.5},
"encoding":{"x":{"field":"t","type":"quantitative","scale":{"domain":[-14.9,264.1],"range":[334.7,533],"nice":false,"zero":false},"axis":{"orient":"bottom","offset":-458.3,"values":[0,50,100,150,200,250],"title":"Duration (months)"}},
"y":{"field":"v","type":"quantitative","scale":{"domain":[-0.0557,1.0623],"range":[238.7,18],"nice":false,"zero":false},"axis":{"orient":"left","offset":-334.7,"values":[0,0.2,0.4,0.6,0.8,1],"format":".1f","title":"Overall Survival"}},
"color":{"field":"g","type":"nominal","legend":null},"strokeDash":{"field":"g","type":"nominal","legend":null}}},
{"data":{"name":"cens"},"transform":[{"filter":"datum.p=='a2'"}],"mark":{"type":"tick","orient":"vertical","size":5,"thickness":1},
"encoding":{"x":{"field":"t","type":"quantitative","scale":{"domain":[-14.9,264.1],"range":[334.7,533],"nice":false,"zero":false},"axis":{"orient":"top","offset":-18,"ticks":false,"labels":false,"title":null}},
"y":{"field":"v","type":"quantitative","scale":{"domain":[-0.0557,1.0623],"range":[238.7,18],"nice":false,"zero":false},"axis":{"orient":"right","offset":-807,"ticks":false,"labels":false,"title":null}},
"color":{"field":"g","type":"nominal","legend":null}}},
{"data":{"name":"txt"},"transform":[{"filter":"datum.p=='a2'"}],"mark":{"type":"text","align":"left","baseline":"middle","font":"Liberation Sans","fontWeight":"bold","fontSize":18,"color":"#111"},
"encoding":{"x":{"field":"t","type":"quantitative","scale":{"domain":[-14.9,264.1],"range":[334.7,533],"nice":false,"zero":false},"axis":null},"y":{"field":"v","type":"quantitative","scale":{"domain":[-0.0557,1.0623],"range":[238.7,18],"nice":false,"zero":false},"axis":null},"text":{"field":"lab"}}},
{"data":{"name":"txt"},"transform":[{"filter":"datum.p=='a2' && datum.k=='lr'"}],"mark":{"type":"text","align":"left","baseline":"middle","font":"Liberation Sans","fontWeight":"bold","fontStyle":"italic","fontSize":18,"color":"#111","dx":87,"text":"P"},
"encoding":{"x":{"field":"t","type":"quantitative","scale":{"domain":[-14.9,264.1],"range":[334.7,533],"nice":false,"zero":false},"axis":null},"y":{"field":"v","type":"quantitative","scale":{"domain":[-0.0557,1.0623],"range":[238.7,18],"nice":false,"zero":false},"axis":null}}},
{"data":{"name":"txt"},"transform":[{"filter":"datum.p=='a2' && datum.k=='lr'"}],"mark":{"type":"text","align":"left","baseline":"middle","font":"Liberation Sans","fontWeight":"bold","fontSize":18,"color":"#111","dx":104},
"encoding":{"x":{"field":"t","type":"quantitative","scale":{"domain":[-14.9,264.1],"range":[334.7,533],"nice":false,"zero":false},"axis":null},"y":{"field":"v","type":"quantitative","scale":{"domain":[-0.0557,1.0623],"range":[238.7,18],"nice":false,"zero":false},"axis":null},"text":{"field":"pv"}}}
],"resolve":{"axis":{"x":"independent","y":"independent"}}},

{"layer":[
{"data":{"name":"km"},"transform":[{"filter":"datum.p=='a3'"}],"mark":{"type":"line","interpolate":"step-after","strokeWidth":1.5},
"encoding":{"x":{"field":"t","type":"quantitative","scale":{"domain":[-14,263.1],"range":[595.7,793],"nice":false,"zero":false},"axis":{"orient":"bottom","offset":-458.3,"values":[0,50,100,150,200,250],"title":"Duration (months)"}},
"y":{"field":"v","type":"quantitative","scale":{"domain":[-0.0557,1.0623],"range":[238.7,18],"nice":false,"zero":false},"axis":{"orient":"left","offset":-595.7,"values":[0,0.2,0.4,0.6,0.8,1],"format":".1f","title":"Overall Survival"}},
"color":{"field":"g","type":"nominal","legend":null},"strokeDash":{"field":"g","type":"nominal","legend":null}}},
{"data":{"name":"cens"},"transform":[{"filter":"datum.p=='a3'"}],"mark":{"type":"tick","orient":"vertical","size":5,"thickness":1},
"encoding":{"x":{"field":"t","type":"quantitative","scale":{"domain":[-14,263.1],"range":[595.7,793],"nice":false,"zero":false},"axis":{"orient":"top","offset":-18,"ticks":false,"labels":false,"title":null}},
"y":{"field":"v","type":"quantitative","scale":{"domain":[-0.0557,1.0623],"range":[238.7,18],"nice":false,"zero":false},"axis":{"orient":"right","offset":-547,"ticks":false,"labels":false,"title":null}},
"color":{"field":"g","type":"nominal","legend":null}}},
{"data":{"name":"txt"},"transform":[{"filter":"datum.p=='a3'"}],"mark":{"type":"text","align":"left","baseline":"middle","font":"Liberation Sans","fontWeight":"bold","fontSize":18,"color":"#111"},
"encoding":{"x":{"field":"t","type":"quantitative","scale":{"domain":[-14,263.1],"range":[595.7,793],"nice":false,"zero":false},"axis":null},"y":{"field":"v","type":"quantitative","scale":{"domain":[-0.0557,1.0623],"range":[238.7,18],"nice":false,"zero":false},"axis":null},"text":{"field":"lab"}}},
{"data":{"name":"txt"},"transform":[{"filter":"datum.p=='a3' && datum.k=='lr'"}],"mark":{"type":"text","align":"left","baseline":"middle","font":"Liberation Sans","fontWeight":"bold","fontStyle":"italic","fontSize":18,"color":"#111","dx":87,"text":"P"},
"encoding":{"x":{"field":"t","type":"quantitative","scale":{"domain":[-14,263.1],"range":[595.7,793],"nice":false,"zero":false},"axis":null},"y":{"field":"v","type":"quantitative","scale":{"domain":[-0.0557,1.0623],"range":[238.7,18],"nice":false,"zero":false},"axis":null}}},
{"data":{"name":"txt"},"transform":[{"filter":"datum.p=='a3' && datum.k=='lr'"}],"mark":{"type":"text","align":"left","baseline":"middle","font":"Liberation Sans","fontWeight":"bold","fontSize":18,"color":"#111","dx":104},
"encoding":{"x":{"field":"t","type":"quantitative","scale":{"domain":[-14,263.1],"range":[595.7,793],"nice":false,"zero":false},"axis":null},"y":{"field":"v","type":"quantitative","scale":{"domain":[-0.0557,1.0623],"range":[238.7,18],"nice":false,"zero":false},"axis":null},"text":{"field":"pv"}}}
],"resolve":{"axis":{"x":"independent","y":"independent"}}},

{"layer":[
{"data":{"name":"km"},"transform":[{"filter":"datum.p=='a4'"}],"mark":{"type":"line","interpolate":"step-after","strokeWidth":1.5},
"encoding":{"x":{"field":"t","type":"quantitative","scale":{"domain":[-15,262.2],"range":[856.3,1053.7],"nice":false,"zero":false},"axis":{"orient":"bottom","offset":-458.3,"values":[0,50,100,150,200,250],"title":"Duration (months)"}},
"y":{"field":"v","type":"quantitative","scale":{"domain":[-0.0557,1.0623],"range":[238.7,18],"nice":false,"zero":false},"axis":{"orient":"left","offset":-856.3,"values":[0,0.2,0.4,0.6,0.8,1],"format":".1f","title":"Overall Survival"}},
"color":{"field":"g","type":"nominal","legend":null},"strokeDash":{"field":"g","type":"nominal","legend":null}}},
{"data":{"name":"cens"},"transform":[{"filter":"datum.p=='a4'"}],"mark":{"type":"tick","orient":"vertical","size":5,"thickness":1},
"encoding":{"x":{"field":"t","type":"quantitative","scale":{"domain":[-15,262.2],"range":[856.3,1053.7],"nice":false,"zero":false},"axis":{"orient":"top","offset":-18,"ticks":false,"labels":false,"title":null}},
"y":{"field":"v","type":"quantitative","scale":{"domain":[-0.0557,1.0623],"range":[238.7,18],"nice":false,"zero":false},"axis":{"orient":"right","offset":-286.3,"ticks":false,"labels":false,"title":null}},
"color":{"field":"g","type":"nominal","legend":null}}},
{"data":{"name":"txt"},"transform":[{"filter":"datum.p=='a4'"}],"mark":{"type":"text","align":"left","baseline":"middle","font":"Liberation Sans","fontWeight":"bold","fontSize":18,"color":"#111"},
"encoding":{"x":{"field":"t","type":"quantitative","scale":{"domain":[-15,262.2],"range":[856.3,1053.7],"nice":false,"zero":false},"axis":null},"y":{"field":"v","type":"quantitative","scale":{"domain":[-0.0557,1.0623],"range":[238.7,18],"nice":false,"zero":false},"axis":null},"text":{"field":"lab"}}},
{"data":{"name":"txt"},"transform":[{"filter":"datum.p=='a4' && datum.k=='lr'"}],"mark":{"type":"text","align":"left","baseline":"middle","font":"Liberation Sans","fontWeight":"bold","fontStyle":"italic","fontSize":18,"color":"#111","dx":87,"text":"P"},
"encoding":{"x":{"field":"t","type":"quantitative","scale":{"domain":[-15,262.2],"range":[856.3,1053.7],"nice":false,"zero":false},"axis":null},"y":{"field":"v","type":"quantitative","scale":{"domain":[-0.0557,1.0623],"range":[238.7,18],"nice":false,"zero":false},"axis":null}}},
{"data":{"name":"txt"},"transform":[{"filter":"datum.p=='a4' && datum.k=='lr'"}],"mark":{"type":"text","align":"left","baseline":"middle","font":"Liberation Sans","fontWeight":"bold","fontSize":18,"color":"#111","dx":104},
"encoding":{"x":{"field":"t","type":"quantitative","scale":{"domain":[-15,262.2],"range":[856.3,1053.7],"nice":false,"zero":false},"axis":null},"y":{"field":"v","type":"quantitative","scale":{"domain":[-0.0557,1.0623],"range":[238.7,18],"nice":false,"zero":false},"axis":null},"text":{"field":"pv"}}}
],"resolve":{"axis":{"x":"independent","y":"independent"}}},

{"layer":[
{"data":{"name":"km"},"transform":[{"filter":"datum.p=='a5'"}],"mark":{"type":"line","interpolate":"step-after","strokeWidth":1.5},
"encoding":{"x":{"field":"t","type":"quantitative","scale":{"domain":[-14,263],"range":[1119,1317.3],"nice":false,"zero":false},"axis":{"orient":"bottom","offset":-458.3,"values":[0,50,100,150,200,250],"title":"Duration (months)"}},
"y":{"field":"v","type":"quantitative","scale":{"domain":[-0.0557,1.0623],"range":[238.7,18],"nice":false,"zero":false},"axis":{"orient":"left","offset":-1119,"values":[0,0.2,0.4,0.6,0.8,1],"format":".1f","title":"Overall Survival"}},
"color":{"field":"g","type":"nominal","legend":null},"strokeDash":{"field":"g","type":"nominal","legend":null}}},
{"data":{"name":"cens"},"transform":[{"filter":"datum.p=='a5'"}],"mark":{"type":"tick","orient":"vertical","size":5,"thickness":1},
"encoding":{"x":{"field":"t","type":"quantitative","scale":{"domain":[-14,263],"range":[1119,1317.3],"nice":false,"zero":false},"axis":{"orient":"top","offset":-18,"ticks":false,"labels":false,"title":null}},
"y":{"field":"v","type":"quantitative","scale":{"domain":[-0.0557,1.0623],"range":[238.7,18],"nice":false,"zero":false},"axis":{"orient":"right","offset":-22.7,"ticks":false,"labels":false,"title":null}},
"color":{"field":"g","type":"nominal","legend":null}}},
{"data":{"name":"txt"},"transform":[{"filter":"datum.p=='a5'"}],"mark":{"type":"text","align":"left","baseline":"middle","font":"Liberation Sans","fontWeight":"bold","fontSize":18,"color":"#111"},
"encoding":{"x":{"field":"t","type":"quantitative","scale":{"domain":[-14,263],"range":[1119,1317.3],"nice":false,"zero":false},"axis":null},"y":{"field":"v","type":"quantitative","scale":{"domain":[-0.0557,1.0623],"range":[238.7,18],"nice":false,"zero":false},"axis":null},"text":{"field":"lab"}}},
{"data":{"name":"txt"},"transform":[{"filter":"datum.p=='a5' && datum.k=='lr'"}],"mark":{"type":"text","align":"left","baseline":"middle","font":"Liberation Sans","fontWeight":"bold","fontStyle":"italic","fontSize":18,"color":"#111","dx":87,"text":"P"},
"encoding":{"x":{"field":"t","type":"quantitative","scale":{"domain":[-14,263],"range":[1119,1317.3],"nice":false,"zero":false},"axis":null},"y":{"field":"v","type":"quantitative","scale":{"domain":[-0.0557,1.0623],"range":[238.7,18],"nice":false,"zero":false},"axis":null}}},
{"data":{"name":"txt"},"transform":[{"filter":"datum.p=='a5' && datum.k=='lr'"}],"mark":{"type":"text","align":"left","baseline":"middle","font":"Liberation Sans","fontWeight":"bold","fontSize":18,"color":"#111","dx":104},
"encoding":{"x":{"field":"t","type":"quantitative","scale":{"domain":[-14,263],"range":[1119,1317.3],"nice":false,"zero":false},"axis":null},"y":{"field":"v","type":"quantitative","scale":{"domain":[-0.0557,1.0623],"range":[238.7,18],"nice":false,"zero":false},"axis":null},"text":{"field":"pv"}}}
],"resolve":{"axis":{"x":"independent","y":"independent"}}},

{"layer":[
{"data":{"name":"km"},"transform":[{"filter":"datum.p=='b1'"}],"mark":{"type":"line","interpolate":"step-after","strokeWidth":1.5},
"encoding":{"x":{"field":"t","type":"quantitative","scale":{"domain":[-15.6,259.4],"range":[75.3,273],"nice":false,"zero":false},"axis":{"orient":"bottom","offset":-157.7,"values":[0,50,100,150,200,250],"title":"Duration (months)"}},
"y":{"field":"v","type":"quantitative","scale":{"domain":[-0.0537,1.0588],"range":[539.3,319.7],"nice":false,"zero":false},"axis":{"orient":"left","offset":-75.3,"values":[0,0.2,0.4,0.6,0.8,1],"format":".1f","title":"Relapse-free Survival"}},
"color":{"field":"g","type":"nominal","legend":null},"strokeDash":{"field":"g","type":"nominal","legend":null}}},
{"data":{"name":"cens"},"transform":[{"filter":"datum.p=='b1'"}],"mark":{"type":"tick","orient":"vertical","size":5,"thickness":1},
"encoding":{"x":{"field":"t","type":"quantitative","scale":{"domain":[-15.6,259.4],"range":[75.3,273],"nice":false,"zero":false},"axis":{"orient":"top","offset":-319.7,"ticks":false,"labels":false,"title":null}},
"y":{"field":"v","type":"quantitative","scale":{"domain":[-0.0537,1.0588],"range":[539.3,319.7],"nice":false,"zero":false},"axis":{"orient":"right","offset":-1067,"ticks":false,"labels":false,"title":null}},
"color":{"field":"g","type":"nominal","legend":null}}},
{"data":{"name":"txt"},"transform":[{"filter":"datum.p=='b1'"}],"mark":{"type":"text","align":"left","baseline":"middle","font":"Liberation Sans","fontWeight":"bold","fontSize":18,"color":"#111"},
"encoding":{"x":{"field":"t","type":"quantitative","scale":{"domain":[-15.6,259.4],"range":[75.3,273],"nice":false,"zero":false},"axis":null},"y":{"field":"v","type":"quantitative","scale":{"domain":[-0.0537,1.0588],"range":[539.3,319.7],"nice":false,"zero":false},"axis":null},"text":{"field":"lab"}}},
{"data":{"name":"txt"},"transform":[{"filter":"datum.p=='b1' && datum.k=='lr'"}],"mark":{"type":"text","align":"left","baseline":"middle","font":"Liberation Sans","fontWeight":"bold","fontStyle":"italic","fontSize":18,"color":"#111","dx":87,"text":"P"},
"encoding":{"x":{"field":"t","type":"quantitative","scale":{"domain":[-15.6,259.4],"range":[75.3,273],"nice":false,"zero":false},"axis":null},"y":{"field":"v","type":"quantitative","scale":{"domain":[-0.0537,1.0588],"range":[539.3,319.7],"nice":false,"zero":false},"axis":null}}},
{"data":{"name":"txt"},"transform":[{"filter":"datum.p=='b1' && datum.k=='lr'"}],"mark":{"type":"text","align":"left","baseline":"middle","font":"Liberation Sans","fontWeight":"bold","fontSize":18,"color":"#111","dx":104},
"encoding":{"x":{"field":"t","type":"quantitative","scale":{"domain":[-15.6,259.4],"range":[75.3,273],"nice":false,"zero":false},"axis":null},"y":{"field":"v","type":"quantitative","scale":{"domain":[-0.0537,1.0588],"range":[539.3,319.7],"nice":false,"zero":false},"axis":null},"text":{"field":"pv"}}}
],"resolve":{"axis":{"x":"independent","y":"independent"}}},

{"layer":[
{"data":{"name":"km"},"transform":[{"filter":"datum.p=='b2'"}],"mark":{"type":"line","interpolate":"step-after","strokeWidth":1.5},
"encoding":{"x":{"field":"t","type":"quantitative","scale":{"domain":[-14.9,264.1],"range":[334.7,533],"nice":false,"zero":false},"axis":{"orient":"bottom","offset":-157.7,"values":[0,50,100,150,200,250],"title":"Duration (months)"}},
"y":{"field":"v","type":"quantitative","scale":{"domain":[-0.0537,1.0588],"range":[539.3,319.7],"nice":false,"zero":false},"axis":{"orient":"left","offset":-334.7,"values":[0,0.2,0.4,0.6,0.8,1],"format":".1f","title":"Relapse-free Survival"}},
"color":{"field":"g","type":"nominal","legend":null},"strokeDash":{"field":"g","type":"nominal","legend":null}}},
{"data":{"name":"cens"},"transform":[{"filter":"datum.p=='b2'"}],"mark":{"type":"tick","orient":"vertical","size":5,"thickness":1},
"encoding":{"x":{"field":"t","type":"quantitative","scale":{"domain":[-14.9,264.1],"range":[334.7,533],"nice":false,"zero":false},"axis":{"orient":"top","offset":-319.7,"ticks":false,"labels":false,"title":null}},
"y":{"field":"v","type":"quantitative","scale":{"domain":[-0.0537,1.0588],"range":[539.3,319.7],"nice":false,"zero":false},"axis":{"orient":"right","offset":-807,"ticks":false,"labels":false,"title":null}},
"color":{"field":"g","type":"nominal","legend":null}}},
{"data":{"name":"txt"},"transform":[{"filter":"datum.p=='b2'"}],"mark":{"type":"text","align":"left","baseline":"middle","font":"Liberation Sans","fontWeight":"bold","fontSize":18,"color":"#111"},
"encoding":{"x":{"field":"t","type":"quantitative","scale":{"domain":[-14.9,264.1],"range":[334.7,533],"nice":false,"zero":false},"axis":null},"y":{"field":"v","type":"quantitative","scale":{"domain":[-0.0537,1.0588],"range":[539.3,319.7],"nice":false,"zero":false},"axis":null},"text":{"field":"lab"}}},
{"data":{"name":"txt"},"transform":[{"filter":"datum.p=='b2' && datum.k=='lr'"}],"mark":{"type":"text","align":"left","baseline":"middle","font":"Liberation Sans","fontWeight":"bold","fontStyle":"italic","fontSize":18,"color":"#111","dx":87,"text":"P"},
"encoding":{"x":{"field":"t","type":"quantitative","scale":{"domain":[-14.9,264.1],"range":[334.7,533],"nice":false,"zero":false},"axis":null},"y":{"field":"v","type":"quantitative","scale":{"domain":[-0.0537,1.0588],"range":[539.3,319.7],"nice":false,"zero":false},"axis":null}}},
{"data":{"name":"txt"},"transform":[{"filter":"datum.p=='b2' && datum.k=='lr'"}],"mark":{"type":"text","align":"left","baseline":"middle","font":"Liberation Sans","fontWeight":"bold","fontSize":18,"color":"#111","dx":104},
"encoding":{"x":{"field":"t","type":"quantitative","scale":{"domain":[-14.9,264.1],"range":[334.7,533],"nice":false,"zero":false},"axis":null},"y":{"field":"v","type":"quantitative","scale":{"domain":[-0.0537,1.0588],"range":[539.3,319.7],"nice":false,"zero":false},"axis":null},"text":{"field":"pv"}}}
],"resolve":{"axis":{"x":"independent","y":"independent"}}},

{"layer":[
{"data":{"name":"km"},"transform":[{"filter":"datum.p=='b3'"}],"mark":{"type":"line","interpolate":"step-after","strokeWidth":1.5},
"encoding":{"x":{"field":"t","type":"quantitative","scale":{"domain":[-14,264],"range":[595.7,793.7],"nice":false,"zero":false},"axis":{"orient":"bottom","offset":-157.7,"values":[0,50,100,150,200,250],"title":"Duration (months)"}},
"y":{"field":"v","type":"quantitative","scale":{"domain":[-0.0537,1.0588],"range":[539.3,319.7],"nice":false,"zero":false},"axis":{"orient":"left","offset":-595.7,"values":[0,0.2,0.4,0.6,0.8,1],"format":".1f","title":"Relapse-free Survival"}},
"color":{"field":"g","type":"nominal","legend":null},"strokeDash":{"field":"g","type":"nominal","legend":null}}},
{"data":{"name":"cens"},"transform":[{"filter":"datum.p=='b3'"}],"mark":{"type":"tick","orient":"vertical","size":5,"thickness":1},
"encoding":{"x":{"field":"t","type":"quantitative","scale":{"domain":[-14,264],"range":[595.7,793.7],"nice":false,"zero":false},"axis":{"orient":"top","offset":-319.7,"ticks":false,"labels":false,"title":null}},
"y":{"field":"v","type":"quantitative","scale":{"domain":[-0.0537,1.0588],"range":[539.3,319.7],"nice":false,"zero":false},"axis":{"orient":"right","offset":-546.3,"ticks":false,"labels":false,"title":null}},
"color":{"field":"g","type":"nominal","legend":null}}},
{"data":{"name":"txt"},"transform":[{"filter":"datum.p=='b3'"}],"mark":{"type":"text","align":"left","baseline":"middle","font":"Liberation Sans","fontWeight":"bold","fontSize":18,"color":"#111"},
"encoding":{"x":{"field":"t","type":"quantitative","scale":{"domain":[-14,264],"range":[595.7,793.7],"nice":false,"zero":false},"axis":null},"y":{"field":"v","type":"quantitative","scale":{"domain":[-0.0537,1.0588],"range":[539.3,319.7],"nice":false,"zero":false},"axis":null},"text":{"field":"lab"}}},
{"data":{"name":"txt"},"transform":[{"filter":"datum.p=='b3' && datum.k=='lr'"}],"mark":{"type":"text","align":"left","baseline":"middle","font":"Liberation Sans","fontWeight":"bold","fontStyle":"italic","fontSize":18,"color":"#111","dx":87,"text":"P"},
"encoding":{"x":{"field":"t","type":"quantitative","scale":{"domain":[-14,264],"range":[595.7,793.7],"nice":false,"zero":false},"axis":null},"y":{"field":"v","type":"quantitative","scale":{"domain":[-0.0537,1.0588],"range":[539.3,319.7],"nice":false,"zero":false},"axis":null}}},
{"data":{"name":"txt"},"transform":[{"filter":"datum.p=='b3' && datum.k=='lr'"}],"mark":{"type":"text","align":"left","baseline":"middle","font":"Liberation Sans","fontWeight":"bold","fontSize":18,"color":"#111","dx":104},
"encoding":{"x":{"field":"t","type":"quantitative","scale":{"domain":[-14,264],"range":[595.7,793.7],"nice":false,"zero":false},"axis":null},"y":{"field":"v","type":"quantitative","scale":{"domain":[-0.0537,1.0588],"range":[539.3,319.7],"nice":false,"zero":false},"axis":null},"text":{"field":"pv"}}}
],"resolve":{"axis":{"x":"independent","y":"independent"}}},

{"layer":[
{"data":{"name":"km"},"transform":[{"filter":"datum.p=='b4'"}],"mark":{"type":"line","interpolate":"step-after","strokeWidth":1.5},
"encoding":{"x":{"field":"t","type":"quantitative","scale":{"domain":[-15,263.5],"range":[856.3,1054.7],"nice":false,"zero":false},"axis":{"orient":"bottom","offset":-157.7,"values":[0,50,100,150,200,250],"title":"Duration (months)"}},
"y":{"field":"v","type":"quantitative","scale":{"domain":[-0.0537,1.0588],"range":[539.3,319.7],"nice":false,"zero":false},"axis":{"orient":"left","offset":-856.3,"values":[0,0.2,0.4,0.6,0.8,1],"format":".1f","title":"Relapse-free Survival"}},
"color":{"field":"g","type":"nominal","legend":null},"strokeDash":{"field":"g","type":"nominal","legend":null}}},
{"data":{"name":"cens"},"transform":[{"filter":"datum.p=='b4'"}],"mark":{"type":"tick","orient":"vertical","size":5,"thickness":1},
"encoding":{"x":{"field":"t","type":"quantitative","scale":{"domain":[-15,263.5],"range":[856.3,1054.7],"nice":false,"zero":false},"axis":{"orient":"top","offset":-319.7,"ticks":false,"labels":false,"title":null}},
"y":{"field":"v","type":"quantitative","scale":{"domain":[-0.0537,1.0588],"range":[539.3,319.7],"nice":false,"zero":false},"axis":{"orient":"right","offset":-285.3,"ticks":false,"labels":false,"title":null}},
"color":{"field":"g","type":"nominal","legend":null}}},
{"data":{"name":"txt"},"transform":[{"filter":"datum.p=='b4'"}],"mark":{"type":"text","align":"left","baseline":"middle","font":"Liberation Sans","fontWeight":"bold","fontSize":18,"color":"#111"},
"encoding":{"x":{"field":"t","type":"quantitative","scale":{"domain":[-15,263.5],"range":[856.3,1054.7],"nice":false,"zero":false},"axis":null},"y":{"field":"v","type":"quantitative","scale":{"domain":[-0.0537,1.0588],"range":[539.3,319.7],"nice":false,"zero":false},"axis":null},"text":{"field":"lab"}}},
{"data":{"name":"txt"},"transform":[{"filter":"datum.p=='b4' && datum.k=='lr'"}],"mark":{"type":"text","align":"left","baseline":"middle","font":"Liberation Sans","fontWeight":"bold","fontStyle":"italic","fontSize":18,"color":"#111","dx":87,"text":"P"},
"encoding":{"x":{"field":"t","type":"quantitative","scale":{"domain":[-15,263.5],"range":[856.3,1054.7],"nice":false,"zero":false},"axis":null},"y":{"field":"v","type":"quantitative","scale":{"domain":[-0.0537,1.0588],"range":[539.3,319.7],"nice":false,"zero":false},"axis":null}}},
{"data":{"name":"txt"},"transform":[{"filter":"datum.p=='b4' && datum.k=='lr'"}],"mark":{"type":"text","align":"left","baseline":"middle","font":"Liberation Sans","fontWeight":"bold","fontSize":18,"color":"#111","dx":104},
"encoding":{"x":{"field":"t","type":"quantitative","scale":{"domain":[-15,263.5],"range":[856.3,1054.7],"nice":false,"zero":false},"axis":null},"y":{"field":"v","type":"quantitative","scale":{"domain":[-0.0537,1.0588],"range":[539.3,319.7],"nice":false,"zero":false},"axis":null},"text":{"field":"pv"}}}
],"resolve":{"axis":{"x":"independent","y":"independent"}}},

{"layer":[
{"data":{"name":"km"},"transform":[{"filter":"datum.p=='b5'"}],"mark":{"type":"line","interpolate":"step-after","strokeWidth":1.5},
"encoding":{"x":{"field":"t","type":"quantitative","scale":{"domain":[-15.4,263],"range":[1118,1317.3],"nice":false,"zero":false},"axis":{"orient":"bottom","offset":-157.7,"values":[0,50,100,150,200,250],"title":"Duration (months)"}},
"y":{"field":"v","type":"quantitative","scale":{"domain":[-0.0537,1.0588],"range":[539.3,319.7],"nice":false,"zero":false},"axis":{"orient":"left","offset":-1118,"values":[0,0.2,0.4,0.6,0.8,1],"format":".1f","title":"Relapse-free Survival"}},
"color":{"field":"g","type":"nominal","legend":null},"strokeDash":{"field":"g","type":"nominal","legend":null}}},
{"data":{"name":"cens"},"transform":[{"filter":"datum.p=='b5'"}],"mark":{"type":"tick","orient":"vertical","size":5,"thickness":1},
"encoding":{"x":{"field":"t","type":"quantitative","scale":{"domain":[-15.4,263],"range":[1118,1317.3],"nice":false,"zero":false},"axis":{"orient":"top","offset":-319.7,"ticks":false,"labels":false,"title":null}},
"y":{"field":"v","type":"quantitative","scale":{"domain":[-0.0537,1.0588],"range":[539.3,319.7],"nice":false,"zero":false},"axis":{"orient":"right","offset":-22.7,"ticks":false,"labels":false,"title":null}},
"color":{"field":"g","type":"nominal","legend":null}}},
{"data":{"name":"txt"},"transform":[{"filter":"datum.p=='b5'"}],"mark":{"type":"text","align":"left","baseline":"middle","font":"Liberation Sans","fontWeight":"bold","fontSize":18,"color":"#111"},
"encoding":{"x":{"field":"t","type":"quantitative","scale":{"domain":[-15.4,263],"range":[1118,1317.3],"nice":false,"zero":false},"axis":null},"y":{"field":"v","type":"quantitative","scale":{"domain":[-0.0537,1.0588],"range":[539.3,319.7],"nice":false,"zero":false},"axis":null},"text":{"field":"lab"}}},
{"data":{"name":"txt"},"transform":[{"filter":"datum.p=='b5' && datum.k=='lr'"}],"mark":{"type":"text","align":"left","baseline":"middle","font":"Liberation Sans","fontWeight":"bold","fontStyle":"italic","fontSize":18,"color":"#111","dx":87,"text":"P"},
"encoding":{"x":{"field":"t","type":"quantitative","scale":{"domain":[-15.4,263],"range":[1118,1317.3],"nice":false,"zero":false},"axis":null},"y":{"field":"v","type":"quantitative","scale":{"domain":[-0.0537,1.0588],"range":[539.3,319.7],"nice":false,"zero":false},"axis":null}}},
{"data":{"name":"txt"},"transform":[{"filter":"datum.p=='b5' && datum.k=='lr'"}],"mark":{"type":"text","align":"left","baseline":"middle","font":"Liberation Sans","fontWeight":"bold","fontSize":18,"color":"#111","dx":104},
"encoding":{"x":{"field":"t","type":"quantitative","scale":{"domain":[-15.4,263],"range":[1118,1317.3],"nice":false,"zero":false},"axis":null},"y":{"field":"v","type":"quantitative","scale":{"domain":[-0.0537,1.0588],"range":[539.3,319.7],"nice":false,"zero":false},"axis":null},"text":{"field":"pv"}}}
],"resolve":{"axis":{"x":"independent","y":"independent"}}},

{"data":{"name":"cap"},
"encoding":{"x":{"datum":0,"type":"quantitative","scale":{"domain":[0,1],"range":[8,1000]},"axis":null},
"y":{"field":"line","type":"quantitative","scale":{"domain":[1,3],"range":[640,681]},"axis":null}},
"layer":[
{"transform":[{"filter":"datum.k=='b'"}],"mark":{"type":"text","align":"left","baseline":"middle","font":"DejaVu Sans","fontWeight":"bold","fontSize":20,"color":"#222"},"encoding":{"text":{"field":"text"}}},
{"transform":[{"filter":"datum.k=='n1'"}],"mark":{"type":"text","align":"left","baseline":"middle","font":"Roboto","fontSize":16,"color":"#333","dx":123},"encoding":{"text":{"field":"text"}}},
{"transform":[{"filter":"datum.k=='n'"}],"mark":{"type":"text","align":"left","baseline":"middle","font":"Roboto","fontSize":16,"color":"#333"},"encoding":{"text":{"field":"text"}}}
]}
],
"resolve":{"scale":{"x":"independent","y":"independent"},"axis":{"x":"independent","y":"independent"}},
"config":{
"view":{"stroke":"#8c8c8c","strokeWidth":1.5},
"axis":{"grid":false,"domainColor":"#8c8c8c","domainWidth":1.3,"tickColor":"#8c8c8c","tickSize":4,"tickWidth":1,"labelFont":"Liberation Sans","labelFontSize":13,"labelColor":"#444","labelPadding":2,"labelFlush":false,"labelOverlap":false,"titleFont":"Liberation Sans","titleFontSize":16,"titleFontWeight":"bold","titleColor":"#111"},
"axisX":{"titlePadding":10},
"axisY":{"titlePadding":5}
}
}
